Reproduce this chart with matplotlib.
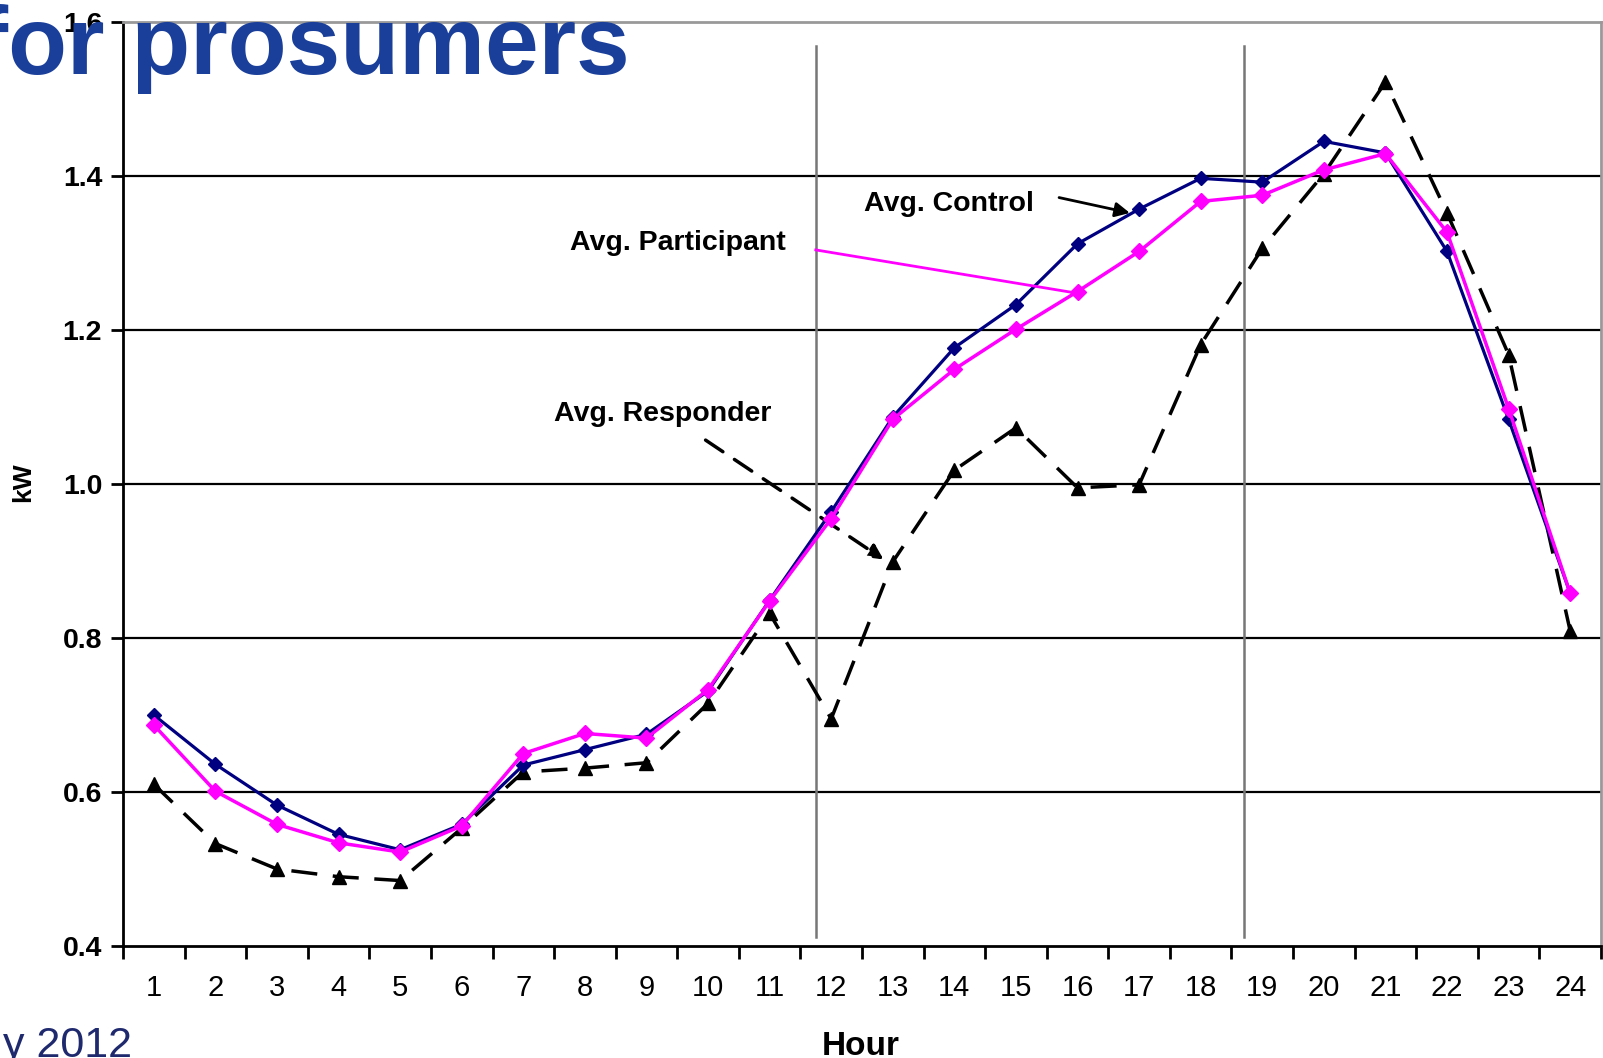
import numpy as np
import matplotlib.pyplot as plt

# Hourly average load (kW)
hours = list(range(1, 25))
avg_control = [0.700, 0.636, 0.583, 0.545, 0.525, 0.558, 0.635, 0.655, 0.675, 0.731,
               0.849, 0.964, 1.087, 1.177, 1.233, 1.312, 1.357, 1.397, 1.392, 1.445,
               1.430, 1.302, 1.084, 0.858]
avg_participant = [0.687, 0.601, 0.558, 0.534, 0.522, 0.556, 0.650, 0.676, 0.670, 0.733,
                   0.848, 0.955, 1.084, 1.149, 1.201, 1.250, 1.302, 1.367, 1.375, 1.408,
                   1.429, 1.327, 1.098, 0.858]
avg_responder = [0.610, 0.533, 0.500, 0.490, 0.485, 0.553, 0.626, 0.631, 0.638, 0.715,
                 0.832, 0.695, 0.899, 1.018, 1.073, 0.995, 0.999, 1.181, 1.306, 1.403,
                 1.522, 1.352, 1.168, 0.809]
y_ticks = [0.4, 0.6, 0.8, 1.0, 1.2, 1.4, 1.6]
event_hours = [11.75, 18.7]  # start / end of the peak event window

plt.rcParams['font.family'] = ['Liberation Sans', 'DejaVu Sans']

W, H = 1603, 1058
fig = plt.figure(figsize=(W / 100, H / 100), dpi=100)
ax = fig.add_axes([123 / W, 1 - 946 / H, (1601 - 123) / W, (946 - 22) / H])

navy = '#000080'
magenta = '#ff00ff'

# horizontal grid lines
for yv in y_ticks[1:-1]:
    ax.axhline(yv, color='black', lw=1.6, zorder=1)

# event window lines
for xv in event_hours:
    ax.axvline(xv, ymin=0.01, ymax=0.974, color='#777777', lw=1.8, zorder=1)

ax.plot(hours, avg_responder, color='black', lw=2.5, ls=(0, (7.5, 4.5)),
        marker='^', ms=10.5, mfc='black', mec='black', zorder=3)
ax.plot(hours, avg_control, color=navy, lw=2.3, marker='D', ms=7.5,
        mfc=navy, mec=navy, zorder=4)
ax.plot(hours, avg_participant, color=magenta, lw=2.5, marker='D', ms=8.5,
        mfc=magenta, mec=magenta, zorder=5)

ax.set_xlim(0.5, 24.5)
ax.set_ylim(0.4, 1.6)

ax.set_xticks(hours)
ax.set_xticks(np.arange(0.5, 25, 1), minor=True)
ax.tick_params(axis='x', which='major', length=0, pad=20, labelsize=21)
ax.tick_params(axis='x', which='minor', length=9, width=2, direction='out')

ax.set_yticks(y_ticks)
ax.set_yticklabels([f'{v:.1f}' for v in y_ticks], fontweight='bold')
ax.tick_params(axis='y', length=9, width=2, direction='out', pad=6, labelsize=20.5)

for side in ['left', 'bottom']:
    ax.spines[side].set_linewidth(2)
for side in ['top', 'right']:
    ax.spines[side].set_color('#999999')
    ax.spines[side].set_linewidth(2)

# annotations
ax.text(13.91, 1.364, 'Avg. Control', fontsize=20.5, fontweight='bold',
        ha='center', va='center')
ax.annotate('', xy=(16.85, 1.352), xytext=(15.7, 1.372),
            arrowprops=dict(arrowstyle='-|>', color='black', lw=2,
                            mutation_scale=22, shrinkA=0, shrinkB=0))

ax.text(9.51, 1.313, 'Avg. Participant', fontsize=20.5, fontweight='bold',
        ha='center', va='center')
ax.plot([11.75, 15.9], [1.304, 1.249], color=magenta, lw=2, zorder=5)

ax.text(9.26, 1.091, 'Avg. Responder', fontsize=20.5, fontweight='bold',
        ha='center', va='center')
ax.annotate('', xy=(12.85, 0.902), xytext=(9.96, 1.057),
            arrowprops=dict(arrowstyle='-|>', color='black', lw=2.5, ls=(0, (6, 4)),
                            mutation_scale=22, shrinkA=0, shrinkB=0))

fig.text(23 / W, 1 - 482 / H, 'kW', rotation=90, fontsize=19, fontweight='bold',
         ha='center', va='center')
fig.text(861 / W, 3 / H, 'Hour', fontsize=24, fontweight='bold',
         ha='center', va='baseline')

# slide remnants around the chart
fig.text(-24 / W, 1 - 74 / H, 'for prosumers', fontsize=69.5, fontweight='bold',
         color='#1a3f9b', ha='left', va='baseline', zorder=10)
fig.text(3 / W, 1 / H, 'y 2012', fontsize=31, color='#1f2a6e',
         ha='left', va='baseline')

fig.savefig('out.png', dpi=100)
